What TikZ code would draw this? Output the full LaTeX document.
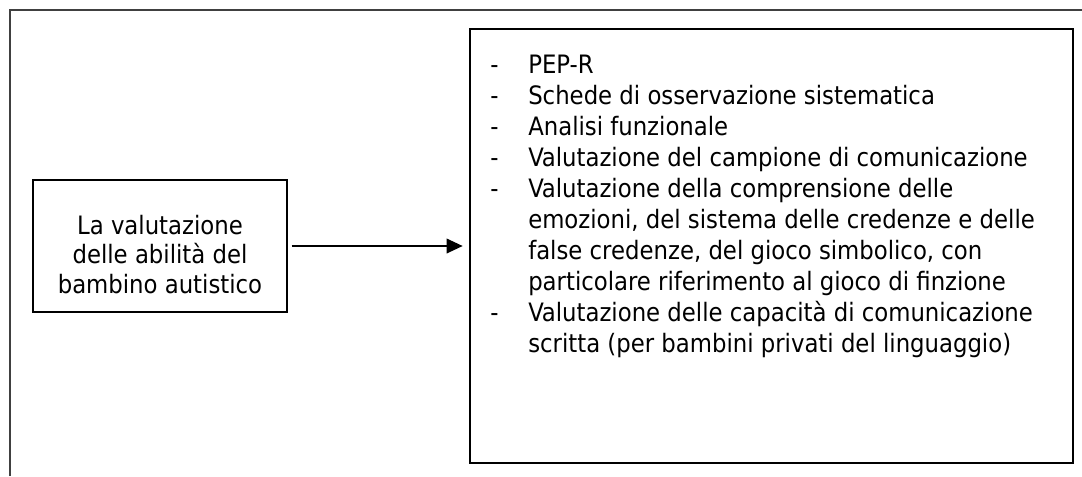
\documentclass[tikz,border=0pt]{standalone}
\usepackage{fontspec}
\setmainfont{DejaVu Sans Condensed}
\usetikzlibrary{arrows.meta, positioning}
\tikzset{
    block/.style={rectangle, draw, line width=1pt, inner sep=0pt},
    boxtext/.style={inner sep=0pt, font=\fontsize{19}{23.25}\selectfont},
    arrow/.style={line width=1.1pt, -{Triangle[length=12pt, width=11pt]}}
}

\begin{document}
\begin{tikzpicture}[x=0.75pt, y=-0.75pt]
        \useasboundingbox (0,0) rectangle (1082,476);

        % outer frame (only top and left edges show)
        \draw[line width=1.5pt, black!75] (9.5,476) -- (9.5,9.5) -- (1082,9.5);

        \node (Abil_box) [block, minimum width=190.5pt, minimum height=99pt] at (160,246) {};
        \node (Abil_text) [boxtext, font=\fontsize{19}{22}\selectfont, align=center, anchor=base] at (160,293) {La valutazione\\delle abilità del\\bambino autistico};

        \node (List_box) [block, minimum width=452.25pt, minimum height=325.5pt] at (771.5,246) {};
        \node (List_text) [boxtext, anchor=base west] at (490,73) {%
            \begin{tabular}[t]{@{}p{28.5pt}@{}l@{}}
            - & PEP-R\\
            - & Schede di osservazione sistematica\\
            - & Analisi funzionale\\
            - & Valutazione del campione di comunicazione\\
            - & Valutazione della comprensione delle\\
              & emozioni, del sistema delle credenze e delle\\
              & false credenze, del gioco simbolico, con\\
              & particolare riferimento al gioco di finzione\\
            - & Valutazione delle capacità di comunicazione\\
              & scritta (per bambini privati del linguaggio)
            \end{tabular}};

        % Flow
        \draw[arrow, shorten <=3pt, shorten >=5pt] (Abil_box) -- (List_box);

    \end{tikzpicture}
\end{document}
